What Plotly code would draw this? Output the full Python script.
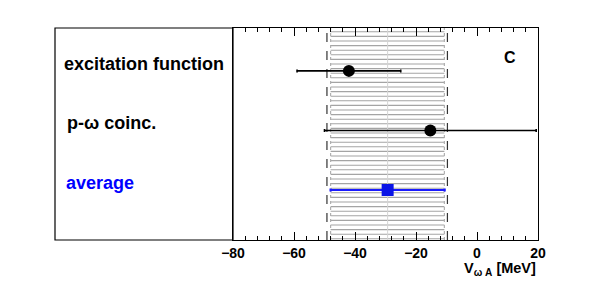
import plotly.graph_objects as go

# ---- data ----
labels = ["excitation function", "p-ω coinc.", "average"]
label_colors = ["black", "black", "blue"]
rows = [3, 2, 1]
values = [-42.0, -15.3, -29.3]
errors = [17.0, 34.7, 18.7]
band_inner = [-48.0, -10.7]     # hatched band (average ± error)
band_outer = [-49.2, -9.7]      # dashed boundary lines
panel_tag = "C"
x_title = "<b>V<sub>ω A</sub> [MeV]</b>"

XMIN, XMAX = -80, 20
YMIN, YMAX = 0.16, 3.72

L, R, T, B = 233, 61, 28, 41
W, H = 599, 281
plot_w = W - L - R
plot_h = H - T - B

fig = go.Figure()

# measurements (black)
fig.add_trace(go.Scatter(
    x=values[:2], y=rows[:2], mode="markers",
    marker=dict(symbol="circle", size=12, color="black"),
    error_x=dict(type="data", array=errors[:2], color="black",
                 thickness=1.6, width=1.5),
    showlegend=False))

# average (blue)
fig.add_trace(go.Scatter(
    x=values[2:], y=rows[2:], mode="markers",
    marker=dict(symbol="square", size=12, color="#0a14e6"),
    error_x=dict(type="data", array=errors[2:], color="#1a1aff",
                 thickness=2.2, width=1.5),
    showlegend=False))

shapes = []
# hatch: horizontal gray lines across the band, every ~4.6 px
hatch_step = 4.6 / plot_h
k = 0
while 1.2 / plot_h + k * hatch_step < 1:
    yp = 1.2 / plot_h + k * hatch_step
    shapes.append(dict(type="line", xref="x", yref="paper",
                       x0=band_inner[0], x1=band_inner[1], y0=yp, y1=yp,
                       layer="below", line=dict(color="#a4a4a4", width=1.1)))
    k += 1
# inner light dotted band edges
for xv in band_inner:
    shapes.append(dict(type="line", xref="x", yref="paper", x0=xv, x1=xv,
                       y0=0, y1=1, layer="below",
                       line=dict(color="#b0b0b0", width=1.2, dash="dot")))
# faint center line
shapes.append(dict(type="line", xref="x", yref="paper", x0=values[2], x1=values[2],
                   y0=0, y1=1, layer="below", line=dict(color="#d4d4d4", width=1)))
# dashed outer lines
for xv in band_outer:
    shapes.append(dict(type="line", xref="x", yref="paper", x0=xv, x1=xv,
                       y0=0, y1=1, layer="below",
                       line=dict(color="#333333", width=1.2, dash="dash")))
# left text box
shapes.append(dict(type="rect", xref="paper", yref="paper",
                   x0=(55 - L) / plot_w, x1=0, y0=0, y1=1,
                   line=dict(color="black", width=1.2)))

annotations = []
label_x = [62, 65, 64]
for lab, col, r, lx in zip(labels, label_colors, rows, label_x):
    annotations.append(dict(
        text=f"<b>{lab}</b>", xref="paper", yref="y",
        x=(lx - L) / plot_w, y=r, yshift=7, xanchor="left", yanchor="middle",
        showarrow=False, font=dict(family="Liberation Sans", size=18, color=col)))
annotations.append(dict(
    text=f"<b>{panel_tag}</b>", xref="paper", yref="paper",
    x=(510 - L) / plot_w, y=(H - B - 57) / plot_h, xanchor="center", yanchor="middle",
    showarrow=False, font=dict(family="Liberation Sans", size=16, color="black")))
annotations.append(dict(
    text=x_title, xref="paper", yref="paper", x=1.0, y=-0.085,
    xanchor="right", yanchor="top", showarrow=False,
    font=dict(family="Liberation Sans", size=14.5, color="black")))

fig.update_layout(
    width=W, height=H,
    margin=dict(l=L, r=R, t=T, b=B),
    paper_bgcolor="white", plot_bgcolor="white",
    shapes=shapes, annotations=annotations,
    xaxis=dict(range=[XMIN, XMAX], dtick=20, tick0=0, ticks="inside",
               ticklen=8, tickwidth=1, tickcolor="black",
               showline=True, linecolor="black", linewidth=1.2,
               mirror="allticks", showgrid=False, zeroline=False,
               minor=dict(dtick=4, ticks="inside", ticklen=4,
                          tickcolor="black", showgrid=False),
               tickfont=dict(family="Liberation Sans", size=14,
                             color="black", weight="bold")),
    yaxis=dict(range=[YMIN, YMAX], showticklabels=False, ticks="",
               showline=True, linecolor="black", linewidth=1.2,
               mirror=True, showgrid=False, zeroline=False),
)

fig.write_html("out.html", config={"displayModeBar": False},
               post_script="document.body.style.margin='0';document.body.style.overflow='hidden';")
